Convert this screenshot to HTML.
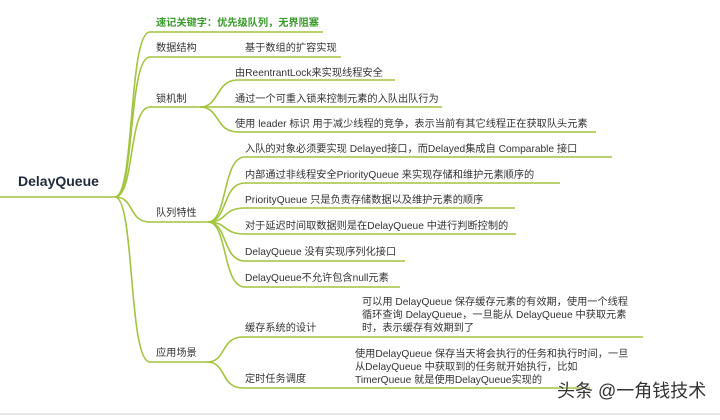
<!DOCTYPE html>
<html><head><meta charset="utf-8"><style>
body{margin:0;background:#fff;}
svg text{font-family:"Liberation Sans","Noto Sans CJK SC",sans-serif;font-size:10.2px;fill:#333;}
</style></head><body>
<svg width="720" height="415" viewBox="0 0 720 415" xmlns="http://www.w3.org/2000/svg">
<rect width="720" height="415" fill="#fff"/>
<line x1="0" y1="414" x2="720" y2="414" stroke="#e6e6e6" stroke-width="2"/>
<g fill="none" stroke="#a3c43f" stroke-width="1.6">
<path d="M0 197 L115 197"/>
<path d="M115 197 C135 197,128 32,150 32 L323 32"/>
<path d="M115 197 C135 197,128 57,150 57 L341 57"/>
<path d="M115 197 C135 197,128 107,150 107 L200 107"/>
<path d="M115 197 C135 197,128 222,150 222 L208 222"/>
<path d="M115 197 C135 197,128 362,150 362 L207 362"/>
<path d="M200 107 C220 107,215 80,238 80 L395 80"/>
<path d="M200 107 L442 107"/>
<path d="M200 107 C220 107,215 132,238 132 L596 132"/>
<path d="M208 222 C228 222,222 157,245 157 L612 157"/>
<path d="M208 222 C228 222,222 183,245 183 L560 183"/>
<path d="M208 222 C228 222,222 208,245 208 L515 208"/>
<path d="M208 222 C228 222,222 234,245 234 L516 234"/>
<path d="M208 222 C228 222,222 261,245 261 L405 261"/>
<path d="M208 222 C228 222,222 287,245 287 L400 287"/>
<path d="M207 362 C227 362,220 337,243 337 L643 337"/>
<path d="M207 362 C227 362,220 388,243 388 L590 388"/>
</g>
<text x="18" y="186" style="font-size:14px;font-weight:bold;fill:#1f2a3a">DelayQueue</text>
<text x="156" y="26" style="fill:#3a9a2a;font-weight:bold">速记关键字：优先级队列，无界阻塞</text>
<text x="156" y="51">数据结构</text>
<text x="245" y="51">基于数组的扩容实现</text>
<text x="156" y="102">锁机制</text>
<text x="235" y="76">由ReentrantLock来实现线程安全</text>
<text x="235" y="102">通过一个可重入锁来控制元素的入队出队行为</text>
<text x="235" y="127">使用 leader 标识 用于减少线程的竞争，表示当前有其它线程正在获取队头元素</text>
<text x="156" y="216">队列特性</text>
<text x="245" y="152">入队的对象必须要实现 Delayed接口，而Delayed集成自 Comparable 接口</text>
<text x="245" y="178">内部通过非线程安全PriorityQueue 来实现存储和维护元素顺序的</text>
<text x="245" y="203">PriorityQueue 只是负责存储数据以及维护元素的顺序</text>
<text x="245" y="229">对于延迟时间取数据则是在DelayQueue 中进行判断控制的</text>
<text x="245" y="255">DelayQueue 没有实现序列化接口</text>
<text x="245" y="281">DelayQueue不允许包含null元素</text>
<text x="156" y="356">应用场景</text>
<text x="245" y="331">缓存系统的设计</text>
<text x="362" y="305">可以用 DelayQueue 保存缓存元素的有效期，使用一个线程</text>
<text x="362" y="318">循环查询 DelayQueue，一旦能从 DelayQueue 中获取元素</text>
<text x="362" y="331">时，表示缓存有效期到了</text>
<text x="245" y="382">定时任务调度</text>
<text x="355" y="357">使用DelayQueue 保存当天将会执行的任务和执行时间，一旦</text>
<text x="355" y="370">从DelayQueue 中获取到的任务就开始执行，比如</text>
<text x="355" y="383">TimerQueue 就是使用DelayQueue实现的</text>
<text x="557" y="397" style="font-size:18px;fill:#333;stroke:#fff;stroke-width:0.6;paint-order:stroke">头条 @一角钱技术</text>
</svg>
</body></html>
